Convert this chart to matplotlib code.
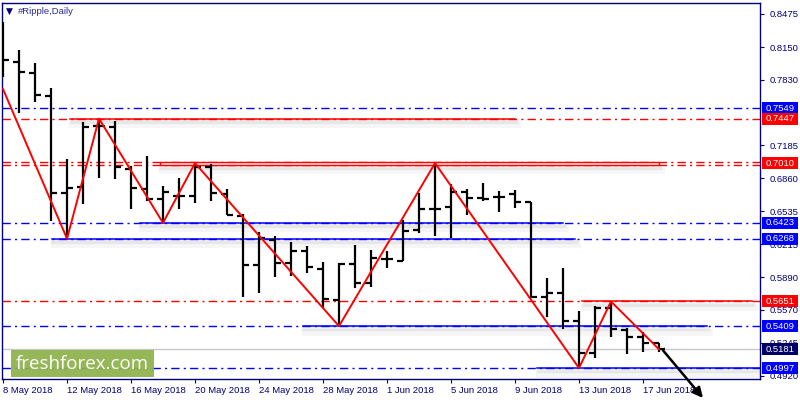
import matplotlib
matplotlib.use('Agg')
import matplotlib.pyplot as plt
import matplotlib.patheffects as pe
import matplotlib.transforms as mtrans
from matplotlib.patches import Rectangle

plt.rcParams['font.family'] = 'Liberation Sans'

# daily OHLC, 8 May 2018 .. 18 Jun 2018 (one bar per day)
opens = [0.8399, 0.8006, 0.7898, 0.7670, 0.6714, 0.6779, 0.7375, 0.7368, 0.6950, 0.6756,
         0.6658, 0.6690, 0.6690, 0.6969, 0.6707, 0.6491, 0.6009, 0.6255, 0.6032, 0.6147,
         0.5970, 0.5670, 0.6016, 0.5836, 0.6065, 0.6049, 0.6353, 0.6560, 0.6576, 0.6724,
         0.6671, 0.6680, 0.6704, 0.6625, 0.5698, 0.5731, 0.5462, 0.5142, 0.5590, 0.5371,
         0.5305, 0.5240]
highs = [0.8399, 0.8121, 0.7997, 0.7745, 0.7051, 0.7411, 0.7447, 0.7427, 0.6982, 0.7080,
         0.6785, 0.6861, 0.7010, 0.7002, 0.6756, 0.6507, 0.6331, 0.6294, 0.6232, 0.6199,
         0.6036, 0.6026, 0.6206, 0.6157, 0.6147, 0.6451, 0.6714, 0.7010, 0.6805, 0.6753,
         0.6812, 0.6739, 0.6746, 0.6631, 0.5879, 0.5983, 0.5558, 0.5607, 0.5651, 0.5393,
         0.5348, 0.5240]
lows = [0.7859, 0.7500, 0.7614, 0.6445, 0.6268, 0.6606, 0.6861, 0.6854, 0.6557, 0.6641,
        0.6423, 0.6557, 0.6615, 0.6641, 0.6500, 0.5692, 0.5731, 0.5894, 0.5901, 0.5928,
        0.5584, 0.5409, 0.5781, 0.5790, 0.5977, 0.6049, 0.6321, 0.6294, 0.6278, 0.6500,
        0.6641, 0.6527, 0.6566, 0.5682, 0.5496, 0.5381, 0.4997, 0.5093, 0.5305, 0.5132,
        0.5158, 0.5158]
closes = [0.8023, 0.7908, 0.7679, 0.6720, 0.6769, 0.7368, 0.7375, 0.6975, 0.6769, 0.6658,
          0.6729, 0.6690, 0.6969, 0.6720, 0.6500, 0.6009, 0.6278, 0.6032, 0.6147, 0.5993,
          0.5672, 0.6019, 0.5836, 0.6081, 0.6065, 0.6346, 0.6560, 0.6560, 0.6724, 0.6671,
          0.6658, 0.6680, 0.6631, 0.5692, 0.5737, 0.5462, 0.5142, 0.5590, 0.5378, 0.5305,
          0.5246, 0.5181]

date_labels = ['8 May 2018', '12 May 2018', '16 May 2018', '20 May 2018', '24 May 2018',
               '28 May 2018', '1 Jun 2018', '5 Jun 2018', '9 Jun 2018', '13 Jun 2018',
               '17 Jun 2018']
price_ticks = [0.8475, 0.8150, 0.7830, 0.7185, 0.6860, 0.6535, 0.6215, 0.5890,
               0.5570, 0.5245, 0.4920]

# zigzag (day index, price)
zz_day = [0, 4, 6, 10, 12, 21, 27, 36, 38, 41]
zz_price = [0.7738, 0.6268, 0.7447, 0.6423, 0.7010, 0.5409, 0.7010, 0.4997, 0.5651, 0.5181]

# horizontal levels, with the solid (drawn) stretch in day units
level_price = [0.7549, 0.7447, 0.6423, 0.6268, 0.5651, 0.5409, 0.4997]
level_color = ['#0000ff', '#ff0000', '#0000ff', '#0000ff', '#ff0000', '#0000ff', '#0000ff']
level_from = [None, 4.2, 8.55, 3.05, 36.2, 18.75, 33.4]
level_to = [None, 32.0, 35.0, 35.75, 46.8, 44.0, 47.4]

# the double red level at 0.7010
band_price = 0.7010
band_from, band_to = 9.8, 41.0

last_price = 0.5181
arrow_from = (41.25, 0.5171)
arrow_to = (43.75, 0.4703)

navy = '#00007a'
dashdot = (0, (6, 3, 1.5, 3))
shadow = [pe.SimpleLineShadow(offset=(1.5, -4.0), shadow_color='0.5', alpha=0.07, linewidth=5),
          pe.SimpleLineShadow(offset=(1.0, -2.2), shadow_color='0.5', alpha=0.12, linewidth=3),
          pe.Normal()]

fig = plt.figure(figsize=(8, 4), dpi=100)
ax = fig.add_axes([2 / 800, 21 / 400, 758 / 800, 376 / 400])

x_lo = -1 / 16
x_hi = x_lo + 758 / 16
ax.set_xlim(x_lo, x_hi)
ax.set_ylim(0.48895, 0.85830)

# levels
for p, c, a, b in zip(level_price, level_color, level_from, level_to):
    ax.plot([x_lo, x_hi], [p, p], color=c, lw=1.0, ls=dashdot, zorder=1)
    if a is not None:
        ax.plot([a, b], [p, p], color=c, lw=1.1, zorder=2, path_effects=shadow)

dy = 0.0014
for p in (band_price + dy, band_price - dy):
    ax.plot([x_lo, x_hi], [p, p], color='#ff0000', lw=1.0, ls=dashdot, zorder=1)
ax.plot([band_from, band_to], [band_price - dy] * 2, color='none', lw=1, zorder=1.5,
        path_effects=shadow[:2])
band = Rectangle((band_from, band_price - dy), band_to - band_from, 2 * dy,
                 facecolor='#ffe4e4', edgecolor='#ff0000', lw=1.0, zorder=2)
ax.add_patch(band)

ax.axhline(last_price, color='#c8c8c8', lw=1.0, zorder=1)

# bars
days = list(range(len(opens)))
w = 0.4
ax.vlines(days, lows, highs, color='k', lw=1.6, zorder=4)
ax.hlines(opens, [d - w for d in days], days, color='k', lw=1.6, zorder=4)
ax.hlines(closes, days, [d + w for d in days], color='k', lw=1.6, zorder=4)

# zigzag
ax.plot(zz_day, zz_price, color='#ff0000', lw=1.4, zorder=5)

ax.annotate('', xy=arrow_to, xytext=arrow_from, annotation_clip=False,
            arrowprops=dict(arrowstyle='-|>', color='k', lw=1.8, mutation_scale=15,
                            shrinkA=0, shrinkB=0), zorder=6)

# axes styling
for s in ax.spines.values():
    s.set_color(navy)
    s.set_linewidth(1.0)
ax.yaxis.tick_right()
ax.set_yticks(price_ticks)
ax.set_yticklabels(['%.4f' % t for t in price_ticks])
ax.set_xticks(range(0, 4 * len(date_labels), 4))
ax.set_xticklabels(date_labels, ha='left')
ax.tick_params(axis='both', colors=navy, labelsize=6.8, length=3, width=0.8)
ax.tick_params(axis='x', pad=2)
ax.tick_params(axis='y', pad=4)

# price labels on the right
tr = mtrans.blended_transform_factory(ax.transAxes, ax.transData)
box_w = 36 / 758
box_h = 12 * (0.85830 - 0.48895) / 376
tags = level_price + [band_price, last_price]
tag_cols = level_color + ['#ff0000', '#000066']
for p, c in zip(tags, tag_cols):
    ax.add_patch(Rectangle((1.0027, p - box_h / 2), box_w, box_h, transform=tr,
                           facecolor=c, edgecolor='none', clip_on=False, zorder=10))
    ax.text(1.0027 + box_w / 2, p, '%.4f' % p, transform=tr, color='white',
            fontsize=6.8, ha='center', va='center', zorder=11, clip_on=False)

# title
fig.text(6 / 800, 1 - 11 / 400, '\u25bc', color=navy, fontsize=6.5, va='center',
         family='DejaVu Sans')
fig.text(18 / 800, 1 - 11 / 400, '#Ripple,Daily', color='#2b2b9a', fontsize=6.8, va='center')

# watermark
fig.patches.append(Rectangle((11 / 800, 1 - 377 / 400), 143 / 800, 27 / 400,
                             transform=fig.transFigure, facecolor='#8db24b',
                             edgecolor='none', alpha=0.93, zorder=20))
fig.text(82 / 800, 1 - 364 / 400, 'freshforex.com', color='white', fontsize=13.5,
         family='Open Sans', ha='center', va='center', zorder=21)

fig.savefig('out.png', dpi=100)
